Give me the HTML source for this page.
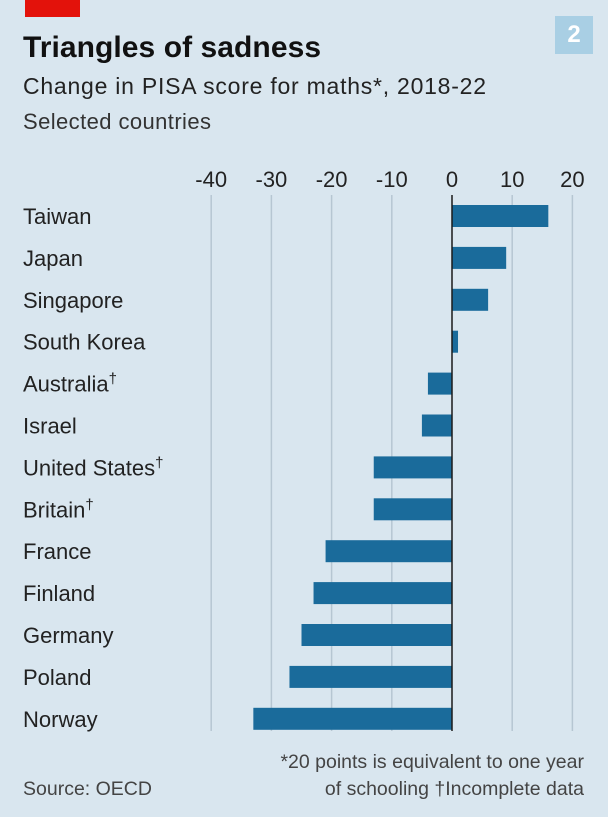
<!DOCTYPE html>
<html><head><meta charset="utf-8"><style>
body{margin:0;background:#d9e6ef;}
#c{position:relative;width:608px;height:817px;background:#d9e6ef;overflow:hidden;font-family:"Liberation Sans",sans-serif;color:#1a1a1a;}
</style></head><body>
<div id="c">
<div style="position:absolute;left:25px;top:0;width:55px;height:17px;background:#e3120b"></div>
<div style="position:absolute;left:555px;top:16px;width:38px;height:38px;background:#a9cfe4;color:#fff;font-weight:bold;font-size:24px;text-align:center;line-height:38px">2</div>
<svg id="s" width="608" height="817" style="position:absolute;left:0;top:0">
<text x="23" y="57" font-size="30" font-weight="bold" fill="#111" textLength="298">Triangles of sadness</text>
<text x="23" y="94" font-size="23" fill="#222" textLength="463">Change in PISA score for maths*, 2018-22</text>
<text x="23" y="129" font-size="22" fill="#333" textLength="188">Selected countries</text>
<text x="584" y="768" font-size="19.5" fill="#444" text-anchor="end">*20 points is equivalent to one year</text>
<text x="584" y="795" font-size="19.5" fill="#444" text-anchor="end">of schooling   †Incomplete data</text>
<text x="23" y="795" font-size="19.5" fill="#444">Source: OECD</text>
</svg>
</div>
<script>
const categories=["Taiwan","Japan","Singapore","South Korea","Australia†","Israel","United States†","Britain†","France","Finland","Germany","Poland","Norway"];
const values=[16,9,6,1,-4,-5,-13,-13,-21,-23,-25,-27,-33];
const ticks=[-40,-30,-20,-10,0,10,20];
const NS="http://www.w3.org/2000/svg";
const s=document.getElementById('s');
const x=v=>452+v*6.02;
const y=i=>205+i*41.9;
function mk(t,a){const e=document.createElementNS(NS,t);for(const k in a)e.setAttribute(k,a[k]);s.appendChild(e);return e;}
ticks.forEach(t=>{
  if(t!==0){const l=mk('line',{x1:x(t),x2:x(t),y1:195,y2:731,stroke:'#b6c6d2','stroke-width':1.5});
  
  }
  const tx=mk('text',{x:x(t),y:187,'font-size':22,'text-anchor':'middle',fill:'#222'});
  tx.textContent=t;
  
  
});
categories.forEach((c,i)=>{
  const v=values[i];
  const r=mk('rect',{x:Math.min(x(0),x(v)),y:y(i),width:Math.abs(x(v)-x(0)),height:22,fill:'#1a6b9b'});
  
  
  const lab=c.replace('†','');
  const t=mk('text',{x:23,y:y(i)+19,'font-size':22,fill:'#222'});
  t.textContent=lab;
  if(c.includes('†')){const sp=document.createElementNS(NS,'tspan');sp.setAttribute('dy','-8');sp.setAttribute('font-size','15');sp.textContent='†';t.appendChild(sp);}
  
  
});
const z=mk('line',{x1:x(0),x2:x(0),y1:195,y2:731,stroke:'#1a1a1a','stroke-width':1.5});


</script>
</body></html>
